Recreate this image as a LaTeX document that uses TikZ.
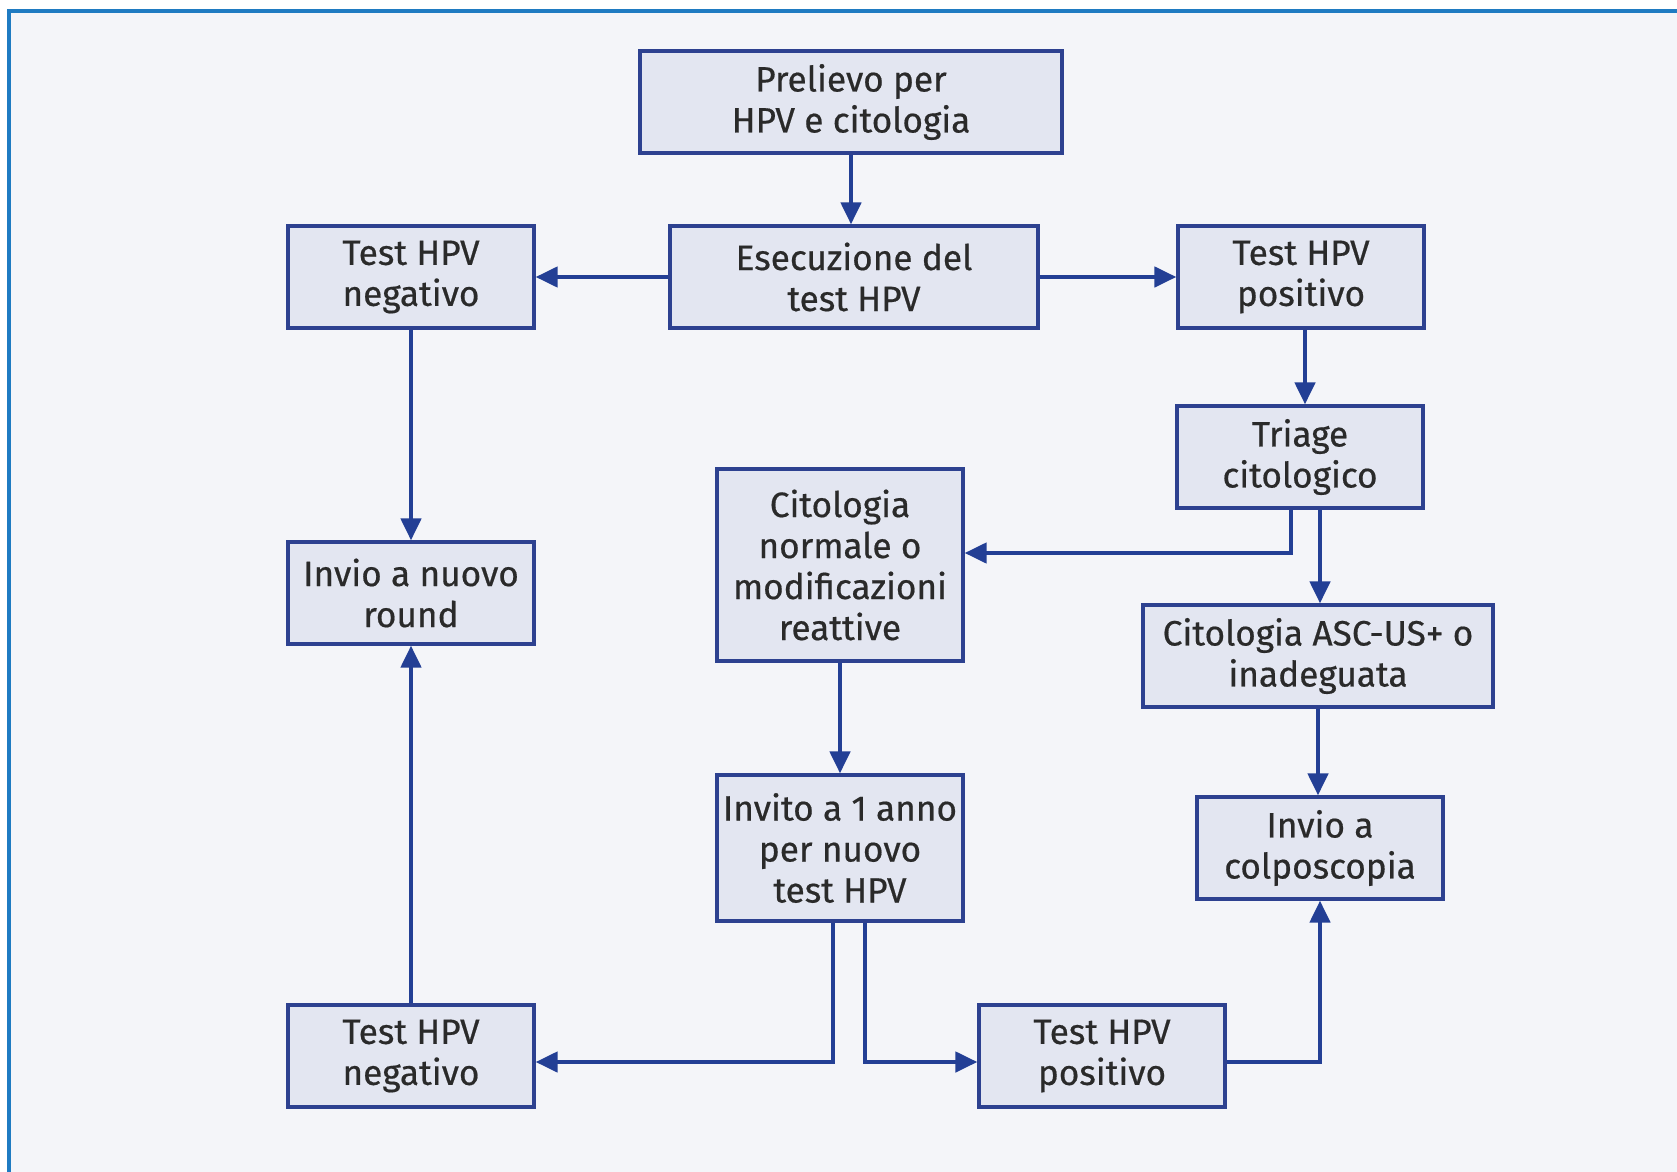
\documentclass[tikz,border=0pt]{standalone}
\usepackage{fontspec}
\setmainfont{Fira Sans}
\newfontfamily\boxfont{Fira Sans}[FakeBold=0.5]
\usetikzlibrary{arrows.meta,positioning,backgrounds}
\definecolor{framecol}{HTML}{1F7BC2}
\definecolor{bgcol}{HTML}{F4F5F9}
\definecolor{boxfill}{HTML}{E3E6F1}
\definecolor{boxline}{HTML}{2D4190}
\definecolor{arrowcol}{HTML}{233F95}
\definecolor{textcol}{HTML}{2A2A2A}
\tikzset{
    %Define standard arrow tip
    >={Triangle[length=11pt,width=10pt]},
    %Define style for boxes
    stepbox/.style={
           rectangle,
           draw=boxline, line width=1.6pt,
           fill=boxfill,
           minimum width=123pt,
           minimum height=51pt,
           inner sep=0pt,
           align=center,
           text=textcol,
           font=\boxfont\fontsize{17.6}{20.5}\selectfont},
    % Define arrow style
    pil/.style={
           ->,
           draw=arrowcol,
           line width=2.2pt},
}
\begin{document}
\begin{tikzpicture}[x=0.5pt,y=-0.5pt]
\useasboundingbox (0,0) rectangle (1677,1172);
\fill[bgcol] (9,11) rectangle (1677,1172);
\draw[framecol,line width=2pt] (9,1172) -- (9,11) -- (1677,11);

\node[stepbox, minimum width=211pt](prelievo) at (851,102){Prelievo per\\HPV e citologia};
\node[stepbox, minimum width=184pt](esec) at (854,277){Esecuzione del\\test HPV};
\node[stepbox](negA) at (411,277){Test HPV\\negativo};
\node[stepbox](posA) at (1301,277){Test HPV\\positivo};
\node[stepbox](triage) at (1300,457){Triage\\citologico};
\node[stepbox, minimum height=96pt](citnorm) at (840,565){Citologia\\normale o\\modificazioni\\reattive};
\node[stepbox](round) at (411,593){Invio a nuovo\\round};
\node[stepbox, minimum width=175pt](ascus) at (1318,656){Citologia ASC-US+ o\\inadeguata};
\node[stepbox](colpo) at (1320,848){Invio a\\colposcopia};
\node[stepbox, minimum height=73pt](invito) at (840,848){Invito a 1 anno\\per nuovo\\test HPV};
\node[stepbox](negB) at (411,1056){Test HPV\\negativo};
\node[stepbox](posB) at (1102,1056){Test HPV\\positivo};

\draw[pil] (prelievo.south) -- (prelievo.south |- esec.north);
\draw[pil] (esec) -- (negA);
\draw[pil] (esec) -- (posA);
\draw[pil] ([xshift=2pt]posA.south) -- ([xshift=2pt]posA.south |- triage.north);
\draw[pil] ([xshift=-4.5pt]triage.south) |- ([yshift=6pt]citnorm.east);
\draw[pil] ([xshift=10pt]triage.south) -- ([xshift=10pt]triage.south |- ascus.north);
\draw[pil] (ascus) -- (ascus.south |- colpo.north);
\draw[pil] (negA) -- (round);
\draw[pil] (negB) -- (round);
\draw[pil] (citnorm) -- (invito);
\draw[pil] ([xshift=-3.5pt]invito.south) |- ([yshift=-3pt]negB.east);
\draw[pil] ([xshift=12.5pt]invito.south) |- ([yshift=-3pt]posB.west);
\draw[pil] ([yshift=-3pt]posB.east) -| (colpo.south);
\end{tikzpicture}
\end{document}
